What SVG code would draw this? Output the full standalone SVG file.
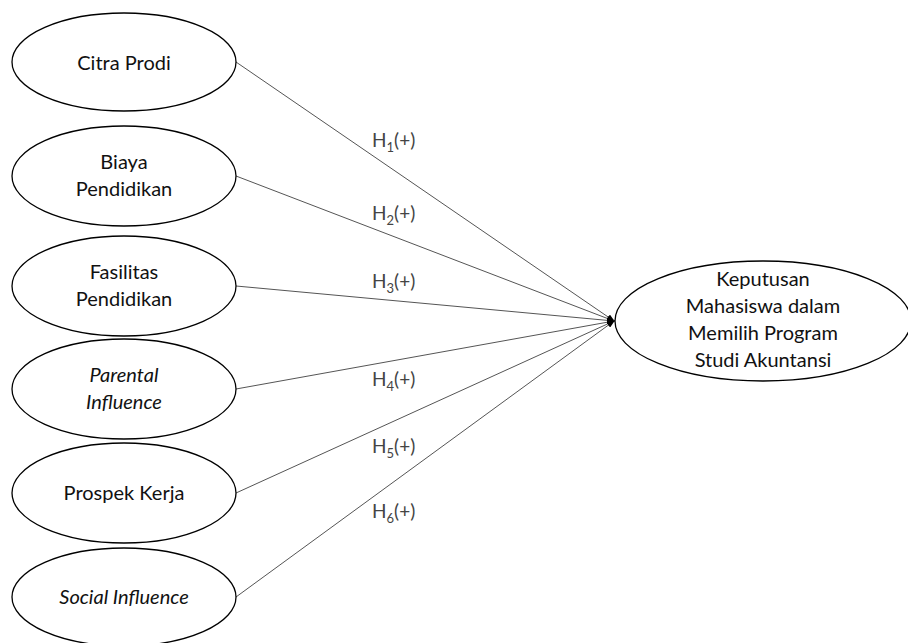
<svg xmlns="http://www.w3.org/2000/svg" width="908" height="643" viewBox="0 0 908 643">
<style>
.node ellipse{fill:#fff;stroke:#000;stroke-width:1.3}
.node text{font-family:Lato,"Liberation Sans",sans-serif;font-size:20px;fill:#111;text-anchor:middle}
.it{font-style:italic}
.conn line{stroke:#555;stroke-width:1}
.lbl{font-family:Lato,"Liberation Sans",sans-serif;font-size:19px;fill:#444}
.sub{font-size:13px}
</style>
<defs>
<marker id="ah" markerWidth="8" markerHeight="6" refX="7" refY="3" orient="auto" markerUnits="userSpaceOnUse">
<path d="M0,0 L8,3 L0,6 Z" fill="#000"/>
</marker>
</defs>
<g id="connectors" class="conn">
<line x1="236" y1="62" x2="614" y2="321" marker-end="url(#ah)"/>
<line x1="236" y1="176" x2="614" y2="321" marker-end="url(#ah)"/>
<line x1="236" y1="286" x2="614" y2="321" marker-end="url(#ah)"/>
<line x1="236" y1="389" x2="614" y2="321" marker-end="url(#ah)"/>
<line x1="236" y1="493" x2="614" y2="321" marker-end="url(#ah)"/>
<line x1="236" y1="597" x2="614" y2="321" marker-end="url(#ah)"/>
</g>
<g id="labels">
<text class="lbl" x="372" y="147">H<tspan class="sub" dy="5">1</tspan><tspan dy="-5">(+)</tspan></text>
<text class="lbl" x="372" y="220">H<tspan class="sub" dy="5">2</tspan><tspan dy="-5">(+)</tspan></text>
<text class="lbl" x="372" y="288">H<tspan class="sub" dy="5">3</tspan><tspan dy="-5">(+)</tspan></text>
<text class="lbl" x="372" y="386">H<tspan class="sub" dy="5">4</tspan><tspan dy="-5">(+)</tspan></text>
<text class="lbl" x="372" y="453">H<tspan class="sub" dy="5">5</tspan><tspan dy="-5">(+)</tspan></text>
<text class="lbl" x="372" y="518">H<tspan class="sub" dy="5">6</tspan><tspan dy="-5">(+)</tspan></text>
</g>
<g id="citra" class="node">
<ellipse cx="124" cy="62" rx="112" ry="49"/>
<text x="124" y="70">Citra Prodi</text>
</g>
<g id="biaya" class="node">
<ellipse cx="124" cy="176" rx="112" ry="50"/>
<text x="124" y="169">Biaya</text>
<text x="124" y="196">Pendidikan</text>
</g>
<g id="fasilitas" class="node">
<ellipse cx="124" cy="286" rx="112" ry="50"/>
<text x="124" y="279">Fasilitas</text>
<text x="124" y="306">Pendidikan</text>
</g>
<g id="parental" class="node">
<ellipse cx="124" cy="389" rx="112" ry="50"/>
<text class="it" x="124" y="382">Parental</text>
<text class="it" x="124" y="409">Influence</text>
</g>
<g id="prospek" class="node">
<ellipse cx="124" cy="493" rx="112" ry="50"/>
<text x="124" y="500">Prospek Kerja</text>
</g>
<g id="social" class="node">
<ellipse cx="124" cy="597" rx="112" ry="49"/>
<text class="it" x="124" y="604">Social Influence</text>
</g>
<g id="keputusan" class="node">
<ellipse cx="763" cy="321" rx="148" ry="60"/>
<text x="763" y="286">Keputusan</text>
<text x="763" y="313">Mahasiswa dalam</text>
<text x="763" y="340">Memilih Program</text>
<text x="763" y="367">Studi Akuntansi</text>
</g>
</svg>
